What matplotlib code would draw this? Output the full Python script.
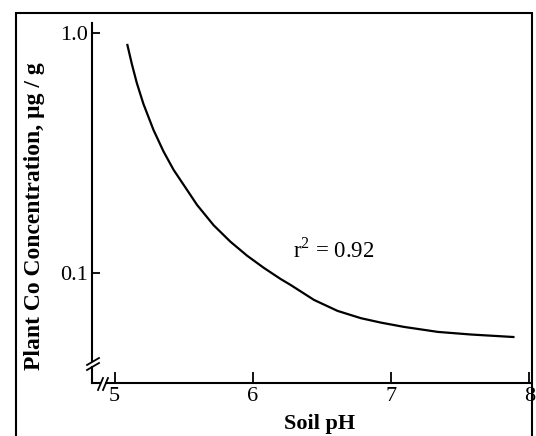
import matplotlib
matplotlib.use("Agg")
import matplotlib.pyplot as plt
from matplotlib.patches import Rectangle
from matplotlib.lines import Line2D

# Data
soil_ph = [5.093, 5.125, 5.161, 5.209, 5.282, 5.354, 5.427, 5.524, 5.597,
           5.717, 5.838, 5.959, 6.080, 6.201, 6.274, 6.443, 6.613, 6.782,
           6.927, 7.094, 7.340, 7.580, 7.885]
plant_co = [0.891, 0.743, 0.619, 0.506, 0.394, 0.321, 0.269, 0.222, 0.192,
            0.158, 0.135, 0.118, 0.105, 0.0944, 0.0891, 0.0772, 0.0695, 0.0648,
            0.0621, 0.0596, 0.0568, 0.0554, 0.0541]
x_ticks = [5, 6, 7, 8]
x_tick_labels = ["5", "6", "7", "8"]
y_ticks = [1.0, 0.1]
y_tick_labels = ["1.0", "0.1"]
r2_text = "r$^{2}$ = 0.92"

plt.rcParams['font.family'] = ['Liberation Serif', 'DejaVu Serif']
plt.rcParams['mathtext.fontset'] = 'custom'
plt.rcParams['mathtext.rm'] = 'Liberation Serif'

W, H = 536, 436
fig = plt.figure(figsize=(W / 100, H / 100), dpi=100)

# Outer frame
fig.patches.append(Rectangle((16 / W, -0.05), (532 - 16) / W, 1 - 13 / H + 0.05,
                             transform=fig.transFigure, fill=False,
                             edgecolor='black', linewidth=1.5, zorder=0))

ax = fig.add_axes([92 / W, 1 - 383 / H, 438 / W, 360 / H])
ax.set_yscale('log')
ax.plot(soil_ph, plant_co, color='black', linewidth=1.6,
        solid_joinstyle='round')
ax.set_xlim(4.837, 8.005)
ax.set_ylim(0.0348, 1.10)

for s in ['top', 'right']:
    ax.spines[s].set_visible(False)
for s in ['left', 'bottom']:
    ax.spines[s].set_linewidth(1.5)

ax.set_xticks(x_ticks)
ax.set_xticklabels(x_tick_labels, fontsize=16)
ax.set_yticks(y_ticks)
ax.set_yticklabels(y_tick_labels, fontsize=16)
ax.yaxis.set_minor_locator(matplotlib.ticker.NullLocator())
ax.tick_params(axis='x', direction='in', length=8, width=1.3, pad=3)
ax.tick_params(axis='y', direction='in', length=6, width=1.3, pad=3)

ax.text(6.29, 0.124, r2_text, fontsize=16.5, ha='left', va='center')

# Axis breaks
def break_marks(cx, cy, dx, dy, off):
    for k in (-1, 1):
        ox, oy = off[0] * k / 2, off[1] * k / 2
        fig.add_artist(Line2D([(cx - dx + ox) / W, (cx + dx + ox) / W],
                              [1 - (cy + dy + oy) / H, 1 - (cy - dy + oy) / H],
                              color='black', linewidth=1.3))

# white gaps
fig.add_artist(Rectangle((89 / W, 1 - 366 / H), 6 / W, 4 / H, transform=fig.transFigure,
                         facecolor='white', edgecolor='none'))
fig.add_artist(Rectangle((101 / W, 1 - 386 / H), 4 / W, 6 / H, transform=fig.transFigure,
                         facecolor='white', edgecolor='none'))
break_marks(93, 364, 6, 3.5, (0, 5))
break_marks(103, 384, 2.5, 6, (5, 0))

fig.text(35 / W, 1 - 216 / H, "Plant Co Concentration, µg / g", rotation=90,
         fontsize=17, fontweight='bold', ha='center', va='center')
fig.text(320 / W, 1 - 424 / H, "Soil pH", fontsize=16, fontweight='bold',
         ha='center', va='center')

fig.savefig("out.png", dpi=100)
